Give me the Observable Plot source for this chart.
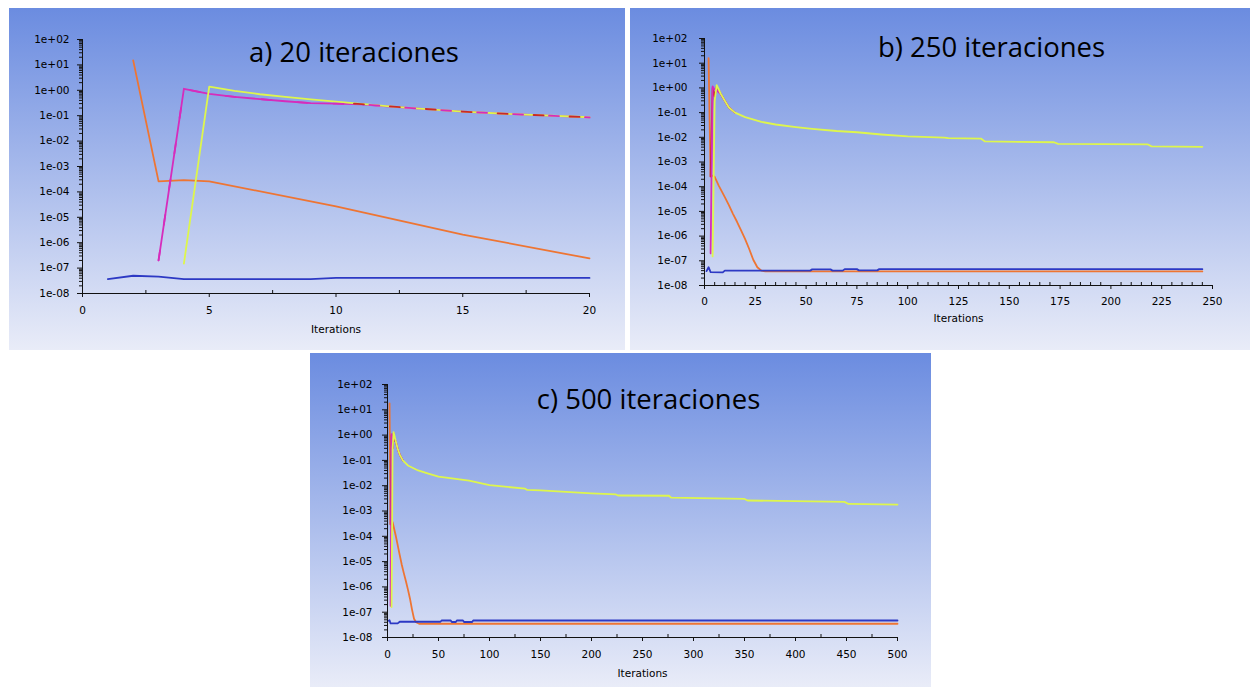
<!DOCTYPE html>
<html><head><meta charset="utf-8">
<script src="https://cdn.jsdelivr.net/npm/d3@7"></script>
<script src="https://cdn.jsdelivr.net/npm/@observablehq/plot@0.6"></script>
<style>
html,body{margin:0;padding:0;background:#fff}
body{width:1250px;height:687px;position:relative;overflow:hidden}
.panel{position:absolute;background:linear-gradient(to bottom,#6b8ce0 0%,#e9ecf8 100%)}
.panel svg{position:absolute;left:0;top:0}
</style></head><body>
<div id="pa" class="panel" style="left:9px;top:8px;width:616px;height:342px"></div>
<div id="pb" class="panel" style="left:630px;top:8px;width:620px;height:342px"></div>
<div id="pc" class="panel" style="left:310px;top:353px;width:621px;height:334px"></div>
<script>
// ---------- tick labels / axes ----------
const yTicks = [1e2, 1e1, 1e0, 1e-1, 1e-2, 1e-3, 1e-4, 1e-5, 1e-6, 1e-7, 1e-8];
const xTicksA = [0, 5, 10, 15, 20];
const xTicksB = [0, 25, 50, 75, 100, 125, 150, 175, 200, 225, 250];
const xTicksC = [0, 50, 100, 150, 200, 250, 300, 350, 400, 450, 500];
const xMinorA = [2.5, 7.5, 12.5, 17.5];
const xMinorB = d3.range(5, 250, 5).filter(v => v % 25 !== 0);
const xMinorC = d3.range(25, 500, 50);
const titles = ["a) 20 iteraciones", "b) 250 iteraciones", "c) 500 iteraciones"];
const xLabel = "Iterations";

// ---------- panel a: 20 iterations  [iteration, residual] ----------
const a_orange  = [[2,15],[3,2.6e-4],[4,2.9e-4],[5,2.6e-4],[10,2.7e-5],[15,2.1e-6],[20,2.4e-7]];
const a_magenta = [[3,2e-7],[4,1.15],[5,0.72],[6,0.55],[7,0.45],[8,0.37],[9,0.31],[10,0.3],[11,0.28],[12,0.235],[13,0.2],[15,0.145],[17,0.115],[20,0.086]];
const a_yellow  = [[4,1.5e-7],[5,1.4],[6,0.95],[7,0.7],[8,0.55],[9,0.44],[10,0.36],[11,0.29],[12,0.24],[13,0.2],[15,0.145],[17,0.115],[20,0.087]];
const a_red     = [[10,0.33],[11,0.285],[12,0.238],[13,0.2],[15,0.145],[17,0.115],[20,0.086]];
const a_blue    = [[1,3.7e-8],[2,5e-8],[3,4.6e-8],[4,3.7e-8],[9,3.7e-8],[10,4.1e-8],[20,4.1e-8]];

// ---------- panel b: 250 iterations ----------
const b_orange  = [[2,16],[3,2.6e-4],[4,2.8e-4],[5,2.5e-4],[7,1.1e-4],[10,3.8e-5],[12,1.8e-5],[14,8e-6],[16,3.8e-6],[18,1.7e-6],[20,7.5e-7],[22,3e-7],[24,1.1e-7],[26,5.5e-8],[28,4e-8],[30,3.7e-8],[245,3.7e-8]];
const b_red     = [[3,2.6e-4],[4,1.0],[5,0.45],[6,1.15],[8,0.57],[10,0.3],[12,0.16],[15,0.1]];
const b_magenta = [[3,2e-7],[4,1.15],[5,0.85],[6,0.8],[8,0.56],[10,0.3],[12,0.16],[15,0.1]];
const b_yellow  = [[4,1.5e-7],[5,0.3],[6,1.3],[8,0.58],[10,0.3],[12,0.16],[15,0.1],[20,0.066],[28,0.042],[35,0.033],[45,0.026],[53,0.022],[65,0.018],[75,0.016],[87,0.013],[100,0.0108],[118,0.0097],[120,0.0092],[136,0.0089],[138,0.0068],[172,0.0063],[174,0.0054],[218,0.0052],[220,0.0043],[245,0.0041]];
const b_blue    = [[1,3.8e-8],[2,5.5e-8],[3,3.5e-8],[9,3.4e-8],[10,4e-8],[52,4e-8],[53,4.5e-8],[62,4.5e-8],[63,4e-8],[68,4e-8],[69,4.6e-8],[75,4.6e-8],[76,4.1e-8],[85,4.1e-8],[86,4.6e-8],[245,4.6e-8]];

// ---------- panel c: 500 iterations ----------
const c_orange  = [[2,18],[3,3e-4],[5,3.6e-4],[8,1.1e-4],[10,4.5e-5],[12,1.8e-5],[14,7.5e-6],[16,3.5e-6],[18,1.7e-6],[20,8e-7],[22,3.5e-7],[24,1.3e-7],[26,5.5e-8],[28,4e-8],[31,3.5e-8],[500,3.5e-8]];
const c_red     = [[3,3e-4],[4,1.0],[5,0.3],[6,1.2],[7,0.6],[8,0.58],[10,0.29],[12,0.17],[15,0.1]];
const c_magenta = [[3,1.8e-7],[4,1.1],[5,0.7],[6,0.9],[8,0.58],[10,0.29],[12,0.17],[15,0.1]];
const c_yellow  = [[4,1.6e-7],[5,0.3],[6,1.3],[8,0.6],[10,0.29],[12,0.17],[15,0.1],[20,0.063],[30,0.04],[40,0.03],[50,0.023],[65,0.019],[80,0.016],[100,0.0105],[135,0.0076],[137,0.0068],[150,0.0065],[200,0.005],[224,0.0045],[226,0.0041],[276,0.004],[278,0.0034],[350,0.003],[353,0.0026],[448,0.0023],[452,0.0019],[500,0.0018]];
const c_blue    = [[1,4.6e-8],[2,4.8e-8],[3,3.6e-8],[10,3.6e-8],[12,4.2e-8],[52,4.2e-8],[53,4.7e-8],[62,4.7e-8],[63,4.1e-8],[67,4.1e-8],[68,4.7e-8],[74,4.7e-8],[75,4.1e-8],[83,4.1e-8],[84,4.7e-8],[500,4.7e-8]];

// ---------- styles ----------
const COL = {orange: "#ee7533", red: "#c8282a", magenta: "#d62cbc", yellow: "#def64c", blue: "#2d39c4"};
const yMinor = [];
for (let k = -8; k < 2; k++) for (let m = 2; m <= 9; m++) yMinor.push(m * Math.pow(10, k));

function sci(v) {
  const e = Math.round(Math.log10(v));
  return "1e" + (e >= 0 ? "+" : "-") + String(Math.abs(e)).padStart(2, "0");
}

function line(data, color, extra = {}) {
  return Plot.line(data, {x: d => d[0], y: d => d[1], stroke: color, strokeWidth: 1.8, ...extra});
}

function panel(cfg) {
  const marks = [
    ...cfg.layers,
    Plot.ruleX([0], {stroke: "#111", strokeWidth: 1}),
    Plot.ruleY([1e-8], {stroke: "#111", strokeWidth: 1}),
    Plot.axisY({ticks: yTicks, tickFormat: sci, tickSize: 5, tickPadding: cfg.ypad, stroke: "#111", fill: "#000"}),
    Plot.axisY({ticks: yMinor, tickSize: 3, tickFormat: () => "", stroke: "#111"}),
    Plot.axisX({ticks: cfg.xTicks, tickSize: 4, tickPadding: cfg.xpad, tickFormat: d => String(d), stroke: "#111", fill: "#000"}),
    Plot.axisX({ticks: cfg.xMinor, tickSize: 3, tickFormat: () => "", stroke: "#111", dy: -3}),
    Plot.text([xLabel], {text: d => d, frameAnchor: "bottom", lineAnchor: "middle", dy: cfg.labOff, fontSize: 10.5, fill: "#000"}),
    Plot.text([cfg.title], {text: d => d, frameAnchor: "top", lineAnchor: "middle", dx: cfg.tdx, dy: cfg.tdy, fontSize: 27.5, fontFamily: "Open Sans", fontWeight: 400, fill: "#000"})
  ];
  return Plot.plot({
    width: cfg.width, height: cfg.height,
    marginLeft: cfg.ml, marginRight: cfg.mr, marginTop: cfg.mt, marginBottom: cfg.mb,
    x: {domain: [0, cfg.xMax], axis: null},
    y: {type: "log", domain: [1e-8, 1e2], axis: null},
    style: {background: "transparent", fontFamily: "DejaVu Sans", fontSize: "10.5px", color: "#000", overflow: "visible"},
    marks
  });
}

const pa = panel({
  width: 616, height: 342, ml: 73, mr: 36, mt: 31, mb: 57, xMax: 20,
  xTicks: xTicksA, xMinor: xMinorA, ypad: 8, xpad: 9, labOff: 36,
  title: titles[0], tdx: 18, tdy: 13.5,
  layers: [
    line(a_orange, COL.orange),
    line(a_magenta, COL.magenta),
    line(a_yellow, COL.yellow),
    line(a_magenta, COL.magenta, {strokeDasharray: "10,26", strokeDashoffset: 0}),
    line(a_red, COL.red, {strokeDasharray: "10,26", strokeDashoffset: 18}),
    line(a_blue, COL.blue)
  ]
});
document.getElementById("pa").appendChild(pa);

const pb = panel({
  width: 620, height: 342, ml: 74, mr: 38, mt: 30, mb: 65, xMax: 250,
  xTicks: xTicksB, xMinor: xMinorB, ypad: 12, xpad: 8, labOff: 33,
  title: titles[1], tdx: 33, tdy: 10,
  layers: [
    line(b_orange, COL.orange),
    line(b_red, COL.red),
    line(b_magenta, COL.magenta),
    line(b_yellow, COL.yellow),
    line(b_blue, COL.blue)
  ]
});
document.getElementById("pb").appendChild(pb);

const pc = panel({
  width: 621, height: 334, ml: 77, mr: 34, mt: 31, mb: 50, xMax: 500,
  xTicks: xTicksC, xMinor: xMinorC, ypad: 10, xpad: 9, labOff: 36,
  title: titles[2], tdx: 6, tdy: 16,
  layers: [
    line(c_orange, COL.orange),
    line(c_red, COL.red),
    line(c_magenta, COL.magenta),
    line(c_yellow, COL.yellow),
    line(c_blue, COL.blue)
  ]
});
document.getElementById("pc").appendChild(pc);
</script>
</body></html>
